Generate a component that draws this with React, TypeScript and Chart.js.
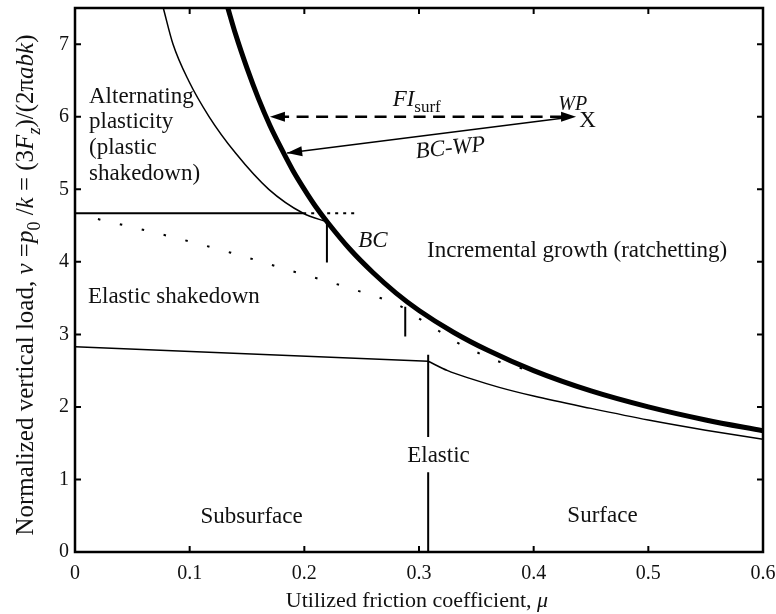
import React, { useEffect, useRef } from 'react';
import { Chart, registerables } from 'chart.js';

Chart.register(...registerables);

const FONT = '"Liberation Serif", "Times New Roman", serif';

// ---- axes ----
const xTickValues = [0, 0.1, 0.2, 0.3, 0.4, 0.5, 0.6];
const xTickLabels = ['0', '0.1', '0.2', '0.3', '0.4', '0.5', '0.6'];
const yTickValues = [0, 1, 2, 3, 4, 5, 6, 7];
const yTickLabels = ['0', '1', '2', '3', '4', '5', '6', '7'];

// ---- curves (utilized friction mu, normalized load nu) ----
const surfaceLimitMu = [0.1333, 0.14, 0.15, 0.16, 0.17, 0.18, 0.19, 0.2, 0.21, 0.22, 0.24, 0.26, 0.28, 0.3, 0.33, 0.36, 0.4, 0.45, 0.5, 0.55, 0.6];
const surfaceLimitNu = [7.5, 7.14, 6.67, 6.25, 5.88, 5.56, 5.26, 5.0, 4.76, 4.55, 4.17, 3.85, 3.57, 3.33, 3.03, 2.78, 2.5, 2.22, 2.0, 1.82, 1.67];

const plasticLimitMu = [0.077, 0.0855, 0.099, 0.117, 0.14, 0.169, 0.199, 0.22];
const plasticLimitNu = [7.5, 7.0, 6.5, 6.0, 5.5, 5.0, 4.67, 4.55];

const elasticSubMu = [0, 0.308];
const elasticSubNu = [2.83, 2.63];

const elasticSurfMu = [0.308, 0.325, 0.345, 0.37, 0.4, 0.45, 0.5, 0.55, 0.6];
const elasticSurfNu = [2.63, 2.5, 2.39, 2.27, 2.15, 1.98, 1.82, 1.68, 1.555];

const shakedownMu = [0, 0.199];
const shakedownNu = [4.67, 4.67];
const shakedownDotMu = [0.199, 0.247];
const shakedownDotNu = [4.67, 4.67];

const elasticShakedownMu = [0.02, 0.078, 0.135, 0.19, 0.247, 0.285, 0.3, 0.317, 0.333, 0.351, 0.369, 0.39];
const elasticShakedownNu = [4.59, 4.37, 4.13, 3.87, 3.6, 3.38, 3.22, 3.05, 2.89, 2.75, 2.63, 2.53];

const bcMarkerMu = [0.2197, 0.2197];
const bcMarkerNu = [4.55, 3.99];
const midMarkerMu = [0.288, 0.288];
const midMarkerNu = [3.38, 2.97];
const elasticTopMu = [0.308, 0.308];
const elasticTopNu = [2.72, 1.585];
const elasticBotMu = [0.308, 0.308];
const elasticBotNu = [1.1, 0];

// arrows: [mu, nu]
const workingPoint = [0.437, 6.0];
const fiSurfTarget = [0.17, 6.0];
const bcTarget = [0.185, 5.5];

type Seg = { t: string; it?: boolean; sub?: boolean };
type Note = { segs: Seg[]; x: number; y: number; size: number; align: 'left' | 'center'; rot?: number };

const notes: Note[] = [
  { segs: [{ t: 'Alternating' }], x: 0.0122, y: 6.19, size: 23, align: 'left' },
  { segs: [{ t: 'plasticity' }], x: 0.0122, y: 5.84, size: 23, align: 'left' },
  { segs: [{ t: '(plastic' }], x: 0.0122, y: 5.49, size: 23, align: 'left' },
  { segs: [{ t: 'shakedown)' }], x: 0.0122, y: 5.13, size: 23, align: 'left' },
  { segs: [{ t: 'Elastic shakedown' }], x: 0.0113, y: 3.43, size: 23, align: 'left' },
  { segs: [{ t: 'Incremental growth (ratchetting)' }], x: 0.307, y: 4.07, size: 23, align: 'left' },
  { segs: [{ t: 'BC', it: true }], x: 0.247, y: 4.21, size: 23, align: 'left' },
  { segs: [{ t: 'Subsurface' }], x: 0.154, y: 0.4, size: 23, align: 'center' },
  { segs: [{ t: 'Surface' }], x: 0.46, y: 0.41, size: 23, align: 'center' },
  { segs: [{ t: 'Elastic' }], x: 0.317, y: 1.24, size: 23, align: 'center' },
  { segs: [{ t: 'FI', it: true }, { t: 'surf', sub: true }], x: 0.277, y: 6.15, size: 23, align: 'left' },
  { segs: [{ t: 'BC-WP', it: true }], x: 0.328, y: 5.48, size: 23, align: 'center', rot: -6 },
  { segs: [{ t: 'WP', it: true }], x: 0.434, y: 6.09, size: 20, align: 'center' },
  { segs: [{ t: 'X' }], x: 0.447, y: 5.86, size: 23, align: 'center' },
];

const yTitle: Seg[] = [
  { t: 'Normalized vertical load, ' }, { t: 'ν', it: true }, { t: ' =' }, { t: 'p', it: true }, { t: '0', sub: true },
  { t: ' /' }, { t: 'k', it: true }, { t: ' = (3' }, { t: 'F', it: true }, { t: 'z', it: true, sub: true },
  { t: ')/(2π' }, { t: 'abk', it: true }, { t: ')' },
];
const xTitle: Seg[] = [{ t: 'Utilized friction coefficient, ' }, { t: 'μ', it: true }];

function pts(xs: number[], ys: number[]) {
  return xs.map((x, i) => ({ x, y: ys[i] }));
}

function fontFor(seg: Seg, size: number) {
  const s = seg.sub ? Math.round(size * 0.72) : size;
  return `${seg.it ? 'italic ' : ''}${s}px ${FONT}`;
}

function drawRich(ctx: CanvasRenderingContext2D, segs: Seg[], x: number, y: number, size: number, align: 'left' | 'center') {
  const widths = segs.map((s) => {
    ctx.font = fontFor(s, size);
    return ctx.measureText(s.t).width;
  });
  const total = widths.reduce((a, b) => a + b, 0);
  let cx = align === 'center' ? x - total / 2 : x;
  ctx.textAlign = 'left';
  ctx.textBaseline = 'alphabetic';
  segs.forEach((s, i) => {
    ctx.font = fontFor(s, size);
    ctx.fillText(s.t, cx, y + (s.sub ? size * 0.28 : 0));
    cx += widths[i];
  });
}

function arrowHead(ctx: CanvasRenderingContext2D, fx: number, fy: number, tx: number, ty: number, len: number, half: number) {
  const a = Math.atan2(ty - fy, tx - fx);
  ctx.beginPath();
  ctx.moveTo(tx, ty);
  ctx.lineTo(tx - len * Math.cos(a) + half * Math.sin(a), ty - len * Math.sin(a) - half * Math.cos(a));
  ctx.lineTo(tx - len * Math.cos(a) - half * Math.sin(a), ty - len * Math.sin(a) + half * Math.cos(a));
  ctx.closePath();
  ctx.fill();
}

const overlay = {
  id: 'overlay',
  afterDatasetsDraw(chart: any) {
    const ctx: CanvasRenderingContext2D = chart.ctx;
    const xs = chart.scales.x;
    const ys = chart.scales.y;
    const { left, right, top, bottom } = chart.chartArea;
    const px = (v: number) => xs.getPixelForValue(v);
    const py = (v: number) => ys.getPixelForValue(v);
    ctx.save();
    ctx.fillStyle = '#000';
    ctx.strokeStyle = '#000';

    // arrows
    const wx = px(workingPoint[0]);
    const wy = py(workingPoint[1]);
    const fx = px(fiSurfTarget[0]);
    const fy = py(fiSurfTarget[1]);
    const bx = px(bcTarget[0]);
    const by = py(bcTarget[1]);
    ctx.lineWidth = 2.5;
    ctx.setLineDash([12, 7.5]);
    ctx.beginPath();
    ctx.moveTo(wx - 14, wy);
    ctx.lineTo(fx + 14, fy);
    ctx.stroke();
    ctx.setLineDash([]);
    arrowHead(ctx, wx, wy, fx, fy, 15, 5);
    arrowHead(ctx, fx, fy, wx, wy, 15, 5);
    ctx.lineWidth = 1.6;
    ctx.beginPath();
    ctx.moveTo(wx - 10, wy + 1);
    ctx.lineTo(bx, by);
    ctx.stroke();
    arrowHead(ctx, wx, wy, bx, by, 15, 5);

    // frame
    ctx.lineWidth = 2.5;
    ctx.strokeRect(left, top, right - left, bottom - top);
    ctx.lineWidth = 2;
    const tl = 6;
    xTickValues.forEach((v) => {
      const x = px(v);
      if (x <= left + 1 || x >= right - 1) return;
      ctx.beginPath();
      ctx.moveTo(x, bottom);
      ctx.lineTo(x, bottom - tl);
      ctx.moveTo(x, top);
      ctx.lineTo(x, top + tl);
      ctx.stroke();
    });
    yTickValues.forEach((v) => {
      const y = py(v);
      if (y >= bottom - 1 || y <= top + 1) return;
      ctx.beginPath();
      ctx.moveTo(left, y);
      ctx.lineTo(left + tl, y);
      ctx.moveTo(right, y);
      ctx.lineTo(right - tl, y);
      ctx.stroke();
    });

    // annotations
    ctx.fillStyle = '#111';
    notes.forEach((n) => {
      const x = px(n.x);
      const y = py(n.y);
      if (n.rot) {
        ctx.save();
        ctx.translate(x, y);
        ctx.rotate((n.rot * Math.PI) / 180);
        drawRich(ctx, n.segs, 0, 0, n.size, n.align);
        ctx.restore();
      } else {
        drawRich(ctx, n.segs, x, y, n.size, n.align);
      }
    });

    // axis titles
    drawRich(ctx, xTitle, 417, 607, 22, 'center');
    ctx.save();
    ctx.translate(33, 285);
    ctx.rotate(-Math.PI / 2);
    drawRich(ctx, yTitle, 0, 0, 25, 'center');
    ctx.restore();

    ctx.restore();
  },
};

function line(data: { x: number; y: number }[], width: number, dash: number[] = []) {
  return {
    data,
    borderColor: '#000',
    borderWidth: width,
    borderDash: dash,
    pointRadius: 0,
    showLine: true,
    fill: false,
    tension: 0,
  };
}

export default function App() {
  const ref = useRef<HTMLCanvasElement | null>(null);
  useEffect(() => {
    if (!ref.current) return;
    const chart = new Chart(ref.current, {
      type: 'scatter',
      data: {
        datasets: [
          { ...line(pts(surfaceLimitMu, surfaceLimitNu), 5), cubicInterpolationMode: 'monotone' },
          { ...line(pts(plasticLimitMu, plasticLimitNu), 1.5), cubicInterpolationMode: 'monotone' },
          line(pts(elasticSubMu, elasticSubNu), 1.5),
          { ...line(pts(elasticSurfMu, elasticSurfNu), 1.5), cubicInterpolationMode: 'monotone' },
          line(pts(shakedownMu, shakedownNu), 2),
          line(pts(shakedownDotMu, shakedownDotNu), 2, [3, 5]),
          { ...line(pts(elasticShakedownMu, elasticShakedownNu), 2, [2.5, 20]), cubicInterpolationMode: 'monotone' },
          line(pts(bcMarkerMu, bcMarkerNu), 2),
          line(pts(midMarkerMu, midMarkerNu), 2),
          line(pts(elasticTopMu, elasticTopNu), 2),
          line(pts(elasticBotMu, elasticBotNu), 2),
        ] as any,
      },
      options: {
        animation: false,
        responsive: false,
        events: [],
        layout: { padding: { left: 0, right: 13, top: 8, bottom: 0 } },
        plugins: { legend: { display: false }, tooltip: { enabled: false } },
        scales: {
          x: {
            type: 'linear',
            min: 0,
            max: 0.6,
            grid: { display: false, drawTicks: false },
            border: { display: false },
            afterBuildTicks: (s: any) => {
              s.ticks = xTickValues.map((v) => ({ value: v }));
            },
            afterFit: (s: any) => {
              s.height = 62;
              s.paddingLeft = 0;
              s.paddingRight = 0;
            },
            ticks: {
              autoSkip: false,
              maxRotation: 0,
              padding: 10,
              color: '#111',
              font: { family: FONT, size: 20 },
              callback: (_v: any, i: number) => xTickLabels[i],
            },
          },
          y: {
            type: 'linear',
            min: 0,
            max: 7.5,
            grid: { display: false, drawTicks: false },
            border: { display: false },
            afterBuildTicks: (s: any) => {
              s.ticks = yTickValues.map((v) => ({ value: v }));
            },
            afterFit: (s: any) => {
              s.width = 75;
              s.paddingTop = 0;
              s.paddingBottom = 0;
            },
            ticks: {
              autoSkip: false,
              padding: 6,
              color: '#111',
              font: { family: FONT, size: 20 },
              callback: (_v: any, i: number) => yTickLabels[i],
            },
          },
        },
      } as any,
      plugins: [overlay],
    });
    return () => chart.destroy();
  }, []);
  return (
    <canvas
      ref={ref}
      width={776}
      height={614}
      style={{ position: 'fixed', left: 0, top: 0, width: 776, height: 614, background: '#fff' }}
    />
  );
}
